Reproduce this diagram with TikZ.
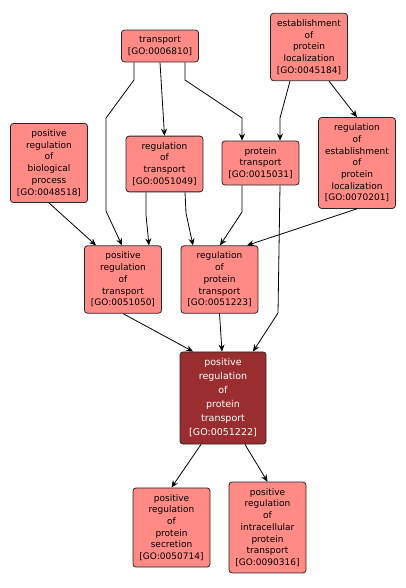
\documentclass[tikz,border=0pt]{standalone}
\usepackage{fontspec}
\setmainfont{DejaVu Sans}
\usepackage{tikz}
\usetikzlibrary{arrows.meta}
\definecolor{goterm}{RGB}{255,138,134}
\definecolor{goquery}{RGB}{153,45,47}

\begin{document}
\begin{tikzpicture}[x=1pt,y=-1pt,
  term/.style={draw=black!85, fill=goterm, rounded corners=3pt, line width=0.8pt,
    minimum width=77pt, inner ysep=6.3pt, align=center,
    font=\fontsize{9}{11.7}\selectfont},
  query/.style={term, fill=goquery, text=white, minimum width=86pt,
    inner ysep=6.8pt, font=\fontsize{9.5}{14}\selectfont},
  edge/.style={-{Stealth[length=7pt,width=6pt]}, line width=0.8pt}]
\useasboundingbox (0,0) rectangle (406,588);
\node[term] (tr) at (160,46) {transport\\{}[GO:0006810]};
\node[term] (epl) at (309,47) {establishment\\of\\protein\\localization\\{}[GO:0045184]};
\node[term] (prbp) at (49,163) {positive\\regulation\\of\\biological\\process\\{}[GO:0048518]};
\node[term] (rt) at (164.5,164) {regulation\\of\\transport\\{}[GO:0051049]};
\node[term] (pt) at (260.5,163) {protein\\transport\\{}[GO:0015031]};
\node[term] (repl) at (357,163) {regulation\\of\\establishment\\of\\protein\\localization\\{}[GO:0070201]};
\node[term] (prt) at (123,279.5) {positive\\regulation\\of\\transport\\{}[GO:0051050]};
\node[term] (rpt) at (219.5,279.5) {regulation\\of\\protein\\transport\\{}[GO:0051223]};
\node[query] (prpt) at (223,398) {positive\\regulation\\of\\protein\\transport\\{}[GO:0051222]};
\node[term] (prps) at (171.5,527.5) {positive\\regulation\\of\\protein\\secretion\\{}[GO:0050714]};
\node[term] (prip) at (267.5,527.5) {positive\\regulation\\of\\intracellular\\protein\\transport\\{}[GO:0090316]};

\draw[edge] (tr.south) -- (rt.north);
\draw[edge] (185,0 |- tr.south) -- (185,80) -- (242,118) -- (242,0 |- pt.north);
\draw[edge] (134,0 |- tr.south) -- (134,80) -- (106,118) -- (106,211) -- (122,0 |- prt.north);
\draw[edge] (290,0 |- epl.south) -- (280,118) -- (280,0 |- pt.north);
\draw[edge] (329,0 |- epl.south) -- (357,0 |- repl.north);
\draw[edge] (prbp.south) -- (96,0 |- prt.north);
\draw[edge] (146,0 |- rt.south) -- (146,215) -- (149,0 |- prt.north);
\draw[edge] (185,0 |- rt.south) -- (186,213) -- (193,0 |- rpt.north);
\draw[edge] (242,0 |- pt.south) -- (242,212) -- (220,0 |- rpt.north);
\draw[edge] (280,0 |- pt.south) -- (278,313) -- (253,0 |- prpt.north);
\draw[edge] (repl.south) -- (247,0 |- rpt.north);
\draw[edge] (prt.south) -- (193,0 |- prpt.north);
\draw[edge] (rpt.south) -- (222,0 |- prpt.north);
\draw[edge] (201,0 |- prpt.south) -- (prps.north);
\draw[edge] (245,0 |- prpt.south) -- (prip.north);
\end{tikzpicture}
\end{document}
